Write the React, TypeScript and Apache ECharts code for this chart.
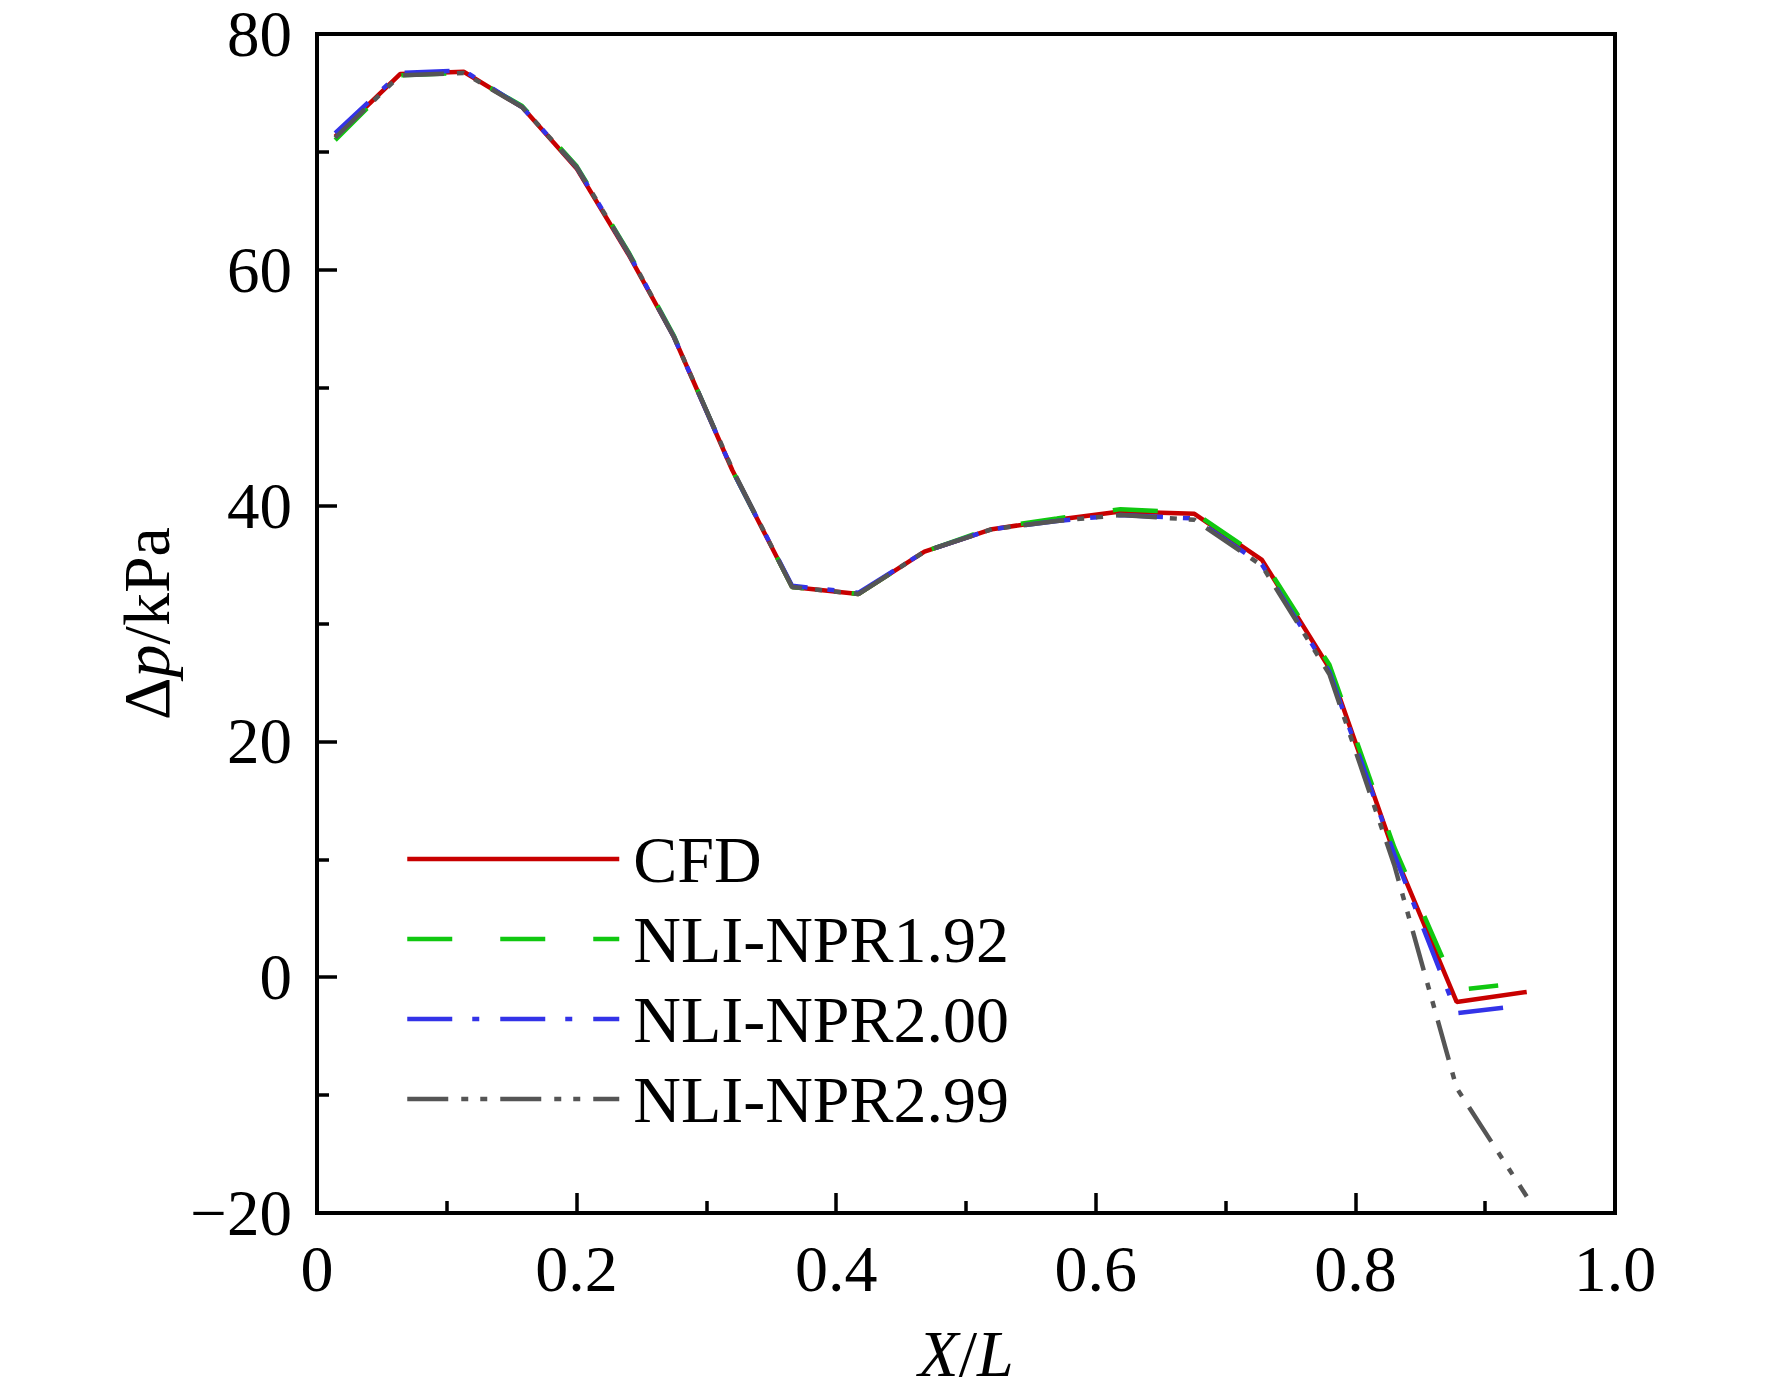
import React, { useEffect, useRef } from "react";
import * as echarts from "echarts";

const xPos = [0.014, 0.064, 0.113, 0.158, 0.2, 0.24, 0.275, 0.32, 0.366, 0.417, 0.468, 0.52, 0.57, 0.619, 0.676, 0.728, 0.78, 0.83, 0.878, 0.932];
const xPos192 = [0.014, 0.064, 0.113, 0.158, 0.2, 0.24, 0.275, 0.32, 0.366, 0.417, 0.468, 0.52, 0.57, 0.619, 0.676, 0.728, 0.78, 0.83, 0.878, 0.91];
const xPos200 = [0.014, 0.064, 0.113, 0.158, 0.2, 0.24, 0.275, 0.32, 0.366, 0.417, 0.468, 0.52, 0.57, 0.619, 0.676, 0.728, 0.78, 0.83, 0.878, 0.928];
const cfd = [71.3, 76.6, 76.8, 73.8, 68.6, 61.3, 54.3, 43.0, 33.1, 32.5, 36.1, 38.0, 38.8, 39.5, 39.3, 35.4, 26.2, 10.5, -2.1, -1.25];
const npr192 = [71.0, 76.5, 76.7, 73.9, 68.8, 61.5, 54.4, 43.0, 33.1, 32.5, 36.1, 38.1, 38.9, 39.7, 39.4, 35.5, 26.5, 11.0, -1.1, -0.7];
const npr200 = [71.6, 76.7, 76.9, 73.8, 68.7, 61.4, 54.3, 43.0, 33.2, 32.6, 36.1, 38.0, 38.7, 39.2, 38.9, 35.0, 25.9, 10.4, -3.05, -2.4];
const npr299 = [71.2, 76.5, 76.7, 73.8, 68.7, 61.4, 54.3, 43.1, 33.1, 32.5, 36.1, 38.0, 38.7, 39.2, 38.8, 34.9, 25.7, 9.5, -9.4, -18.6];

const seriesNames = ["CFD", "NLI-NPR1.92", "NLI-NPR2.00", "NLI-NPR2.99"];
const seriesColors = ["#C80000", "#10C810", "#3333E8", "#555555"];
const seriesDash: any[] = ["solid", [45, 48], [45, 20, 7, 21], [41, 13, 7, 12, 7, 13]];
const seriesX = [xPos, xPos192, xPos200, xPos];
const seriesValues = [cfd, npr192, npr200, npr299];

const FONT = "'Liberation Serif', 'Times New Roman', serif";

export default function App() {
  const ref = useRef<HTMLDivElement>(null);
  useEffect(() => {
    if (!ref.current) return;
    const chart = echarts.init(ref.current, undefined, { renderer: "svg" });
    const series = seriesNames.map((name, i) => ({
      name,
      type: "line",
      symbol: "none",
      data: seriesX[i].map((x, j) => [x, seriesValues[i][j]]),
      lineStyle: { color: seriesColors[i], width: 4.5, type: seriesDash[i], cap: "butt" },
      itemStyle: { color: seriesColors[i] },
      z: 2 + i,
    }));
    chart.setOption({
      animation: false,
      backgroundColor: "#ffffff",
      textStyle: { fontFamily: FONT, color: "#000" },
      grid: {
        left: 317,
        right: 157,
        top: 34,
        bottom: 184,
        show: true,
        borderColor: "#000",
        borderWidth: 4,
        containLabel: false,
      },
      legend: {
        orient: "vertical",
        left: 405,
        top: 826,
        padding: 0,
        itemWidth: 212,
        itemHeight: 14,
        itemGap: 14,
        itemStyle: { opacity: 0 },
        lineStyle: { width: 4.5 },
        textStyle: { fontFamily: FONT, fontSize: 66, lineHeight: 66, color: "#000", padding: [0, 0, 0, 9] },
        data: seriesNames,
      },
      xAxis: {
        type: "value",
        min: 0,
        max: 1,
        interval: 0.2,
        name: "{i|X}{d|/}{i|L}",
        nameLocation: "middle",
        nameGap: 107,
        nameTextStyle: {
          fontFamily: FONT,
          fontSize: 66,
          color: "#000",
          rich: {
            i: { fontFamily: FONT, fontSize: 66, fontStyle: "italic", color: "#000" },
            d: { fontFamily: FONT, fontSize: 66, color: "#000" },
          },
        },
        axisLine: { show: true, onZero: false, lineStyle: { color: "#000", width: 4 } },
        axisTick: { show: true, inside: true, length: 20, lineStyle: { color: "#000", width: 3.5 } },
        minorTick: { show: true, splitNumber: 2, length: 12, lineStyle: { color: "#000", width: 3.5 } },
        splitLine: { show: false },
        minorSplitLine: { show: false },
        axisLabel: {
          fontFamily: FONT,
          fontSize: 66,
          color: "#000",
          margin: 22,
          formatter: (v: number) => (v === 0 ? "0" : v.toFixed(1)),
        },
      },
      yAxis: {
        type: "value",
        min: -20,
        max: 80,
        interval: 20,
        name: "{d|Δ}{i|p}{d|/kPa}",
        nameLocation: "middle",
        nameGap: 134,
        nameTextStyle: {
          fontFamily: FONT,
          fontSize: 66,
          color: "#000",
          rich: {
            i: { fontFamily: FONT, fontSize: 66, fontStyle: "italic", color: "#000" },
            d: { fontFamily: FONT, fontSize: 66, color: "#000" },
          },
        },
        axisLine: { show: true, onZero: false, lineStyle: { color: "#000", width: 4 } },
        axisTick: { show: true, inside: true, length: 20, lineStyle: { color: "#000", width: 3.5 } },
        minorTick: { show: true, splitNumber: 2, length: 12, lineStyle: { color: "#000", width: 3.5 } },
        splitLine: { show: false },
        minorSplitLine: { show: false },
        axisLabel: {
          fontFamily: FONT,
          fontSize: 65,
          lineHeight: 58,
          padding: [6, 0, 0, 0],
          color: "#000",
          margin: 25,
          formatter: (v: number) => (v < 0 ? "\u2212" + Math.abs(v) : String(v)),
        },
      },
      series,
    });
    return () => chart.dispose();
  }, []);
  return (
    <div
      ref={ref}
      style={{ position: "absolute", left: 0, top: 0, width: 1772, height: 1397, background: "#fff" }}
    />
  );
}
